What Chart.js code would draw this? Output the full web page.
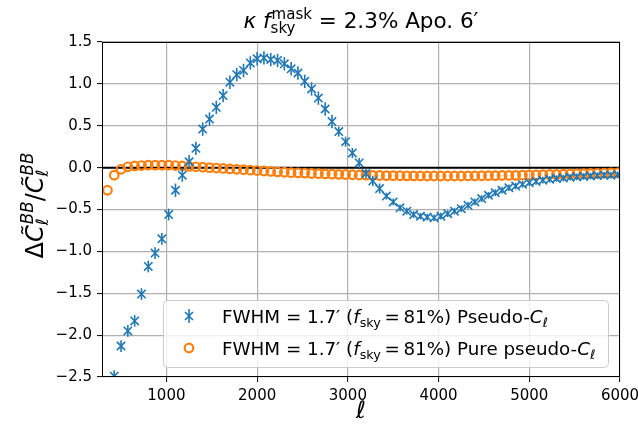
<!DOCTYPE html>
<html>
<head>
<meta charset="utf-8">
<script src="https://cdn.jsdelivr.net/npm/chart.js@4.4.1/dist/chart.umd.min.js"></script>
<style>
  html, body { margin: 0; padding: 0; background: #fff; }
  #wrap { width: 638px; height: 426px; }
</style>
</head>
<body>
<div id="wrap"><canvas id="myChart" width="638" height="426"></canvas></div>
<script>
// multipole bins
var ells = [350, 425, 500, 575, 650, 725, 800, 875, 950, 1025,
    1100, 1175, 1250, 1325, 1400, 1475, 1550, 1625, 1700, 1775,
    1850, 1925, 2000, 2075, 2150, 2225, 2300, 2375, 2450, 2525,
    2600, 2675, 2750, 2825, 2900, 2975, 3050, 3125, 3200, 3275,
    3350, 3425, 3500, 3575, 3650, 3725, 3800, 3875, 3950, 4025,
    4100, 4175, 4250, 4325, 4400, 4475, 4550, 4625, 4700, 4775,
    4850, 4925, 5000, 5075, 5150, 5225, 5300, 5375, 5450, 5525,
    5600, 5675, 5750, 5825, 5900, 5975];

// FWHM 1.7' pseudo-Cl (first bin is below the plot)
var pseudoCl = [null, -2.49, -2.13, -1.95, -1.83, -1.51, -1.18, -1.02, -0.85, -0.56,
    -0.27, -0.09, 0.07, 0.23, 0.46, 0.58, 0.72, 0.86, 1.02, 1.11,
    1.16, 1.25, 1.30, 1.31, 1.29, 1.28, 1.24, 1.18, 1.13, 1.03,
    0.94, 0.83, 0.70, 0.55, 0.43, 0.31, 0.175, 0.056, -0.07, -0.16,
    -0.25, -0.34, -0.41, -0.48, -0.52, -0.56, -0.58, -0.59, -0.60, -0.58,
    -0.55, -0.52, -0.49, -0.45, -0.41, -0.37, -0.33, -0.30, -0.27, -0.24,
    -0.22, -0.20, -0.18, -0.165, -0.15, -0.14, -0.13, -0.125, -0.115, -0.11,
    -0.105, -0.10, -0.095, -0.09, -0.09, -0.085];

var pseudoErr = [0, 0.07, 0.07, 0.07, 0.07, 0.07, 0.07, 0.07, 0.07, 0.07,
    0.08, 0.08, 0.08, 0.08, 0.08, 0.08, 0.08, 0.08, 0.08, 0.08,
    0.08, 0.08, 0.08, 0.08, 0.08, 0.08, 0.08, 0.08, 0.08, 0.08,
    0.08, 0.08, 0.08, 0.08, 0.06, 0.06, 0.06, 0.06, 0.06, 0.06,
    0.06, 0.04, 0.04, 0.04, 0.04, 0.04, 0.04, 0.04, 0.04, 0.04,
    0.04, 0.04, 0.04, 0.04, 0.04, 0.04, 0.04, 0.04, 0.04, 0.04,
    0.04, 0.04, 0.04, 0.04, 0.04, 0.04, 0.04, 0.04, 0.04, 0.04,
    0.04, 0.04, 0.04, 0.04, 0.04, 0.04];

// FWHM 1.7' pure pseudo-Cl
var purePseudoCl = [-0.27, -0.09, -0.02, 0.01, 0.02, 0.025, 0.03, 0.03, 0.03, 0.03,
    0.025, 0.02, 0.015, 0.01, 0.005, 0.0, -0.005, -0.01, -0.015, -0.02,
    -0.025, -0.03, -0.035, -0.04, -0.045, -0.05, -0.055, -0.06, -0.062, -0.065,
    -0.07, -0.072, -0.075, -0.078, -0.08, -0.082, -0.085, -0.088, -0.09, -0.092,
    -0.094, -0.095, -0.096, -0.097, -0.098, -0.098, -0.099, -0.10, -0.10, -0.10,
    -0.10, -0.10, -0.10, -0.099, -0.098, -0.097, -0.096, -0.095, -0.094, -0.093,
    -0.092, -0.09, -0.088, -0.086, -0.084, -0.082, -0.08, -0.078, -0.076, -0.074,
    -0.072, -0.07, -0.068, -0.066, -0.064, -0.062];

var xTicks = [1000, 2000, 3000, 4000, 5000, 6000];

var BLUE = '#1f77b4', ORANGE = '#ff7f0e';
var FONT = '"DejaVu Sans", sans-serif';

function fnt(size, it) {
    return (it ? 'italic ' : '') + size + 'px ' + FONT;
}

// draw text pieces with sub/superscripts, returns width
function runs(ctx, parts, x, y, size, dry) {
    var cx = x;
    parts.forEach(function(p) {
        ctx.font = fnt(size, p.it);
        var w = ctx.measureText(p.t).width;
        if (!dry) ctx.fillText(p.t, cx, y);
        var ws = 0, s = size * 0.7;
        if (p.sup) {
            ctx.font = fnt(s, p.supIt);
            if (!dry) ctx.fillText(p.sup, cx + w + 1, y - size * 0.4);
            ws = Math.max(ws, ctx.measureText(p.sup).width + 1);
        }
        if (p.sub) {
            ctx.font = fnt(s, p.subIt);
            if (!dry) ctx.fillText(p.sub, cx + w, y + size * 0.22);
            ws = Math.max(ws, ctx.measureText(p.sub).width);
        }
        cx += w + ws;
    });
    return cx - x;
}

function pts(ys) {
    var out = [];
    for (var i = 0; i < ells.length; i++) {
        if (ys[i] !== null) out.push({x: ells[i], y: ys[i]});
    }
    return out;
}

var extras = {
    id: 'extras',
    beforeDatasetsDraw: function(chart) {
        var ctx = chart.ctx, a = chart.chartArea, y0 = chart.scales.y.getPixelForValue(0);
        ctx.save();
        ctx.strokeStyle = '#000';
        ctx.lineWidth = 2;
        ctx.beginPath();
        ctx.moveTo(a.left, y0);
        ctx.lineTo(a.right, y0);
        ctx.stroke();
        ctx.restore();
    },
    beforeDatasetDraw: function(chart, args) {
        if (args.index !== 0) return;
        var ctx = chart.ctx, a = chart.chartArea, xs = chart.scales.x, ys = chart.scales.y;
        ctx.save();
        ctx.beginPath();
        ctx.rect(a.left, a.top, a.right - a.left, a.bottom - a.top);
        ctx.clip();
        ctx.strokeStyle = BLUE;
        ctx.lineWidth = 1.6;
        for (var i = 0; i < ells.length; i++) {
            if (pseudoCl[i] === null) continue;
            var px = xs.getPixelForValue(ells[i]);
            ctx.beginPath();
            ctx.moveTo(px, ys.getPixelForValue(pseudoCl[i] - pseudoErr[i]));
            ctx.lineTo(px, ys.getPixelForValue(pseudoCl[i] + pseudoErr[i]));
            ctx.stroke();
        }
        ctx.restore();
    },
    afterDraw: function(chart) {
        var ctx = chart.ctx, a = chart.chartArea;
        ctx.save();
        // frame
        ctx.strokeStyle = '#000';
        ctx.lineWidth = 1;
        ctx.strokeRect(a.left + 0.5, a.top + 0.5, a.right - a.left - 1, a.bottom - a.top - 1);

        // legend
        ctx.fillStyle = 'rgba(255,255,255,0.8)';
        ctx.strokeStyle = '#cccccc';
        ctx.beginPath();
        ctx.roundRect(163.5, 300.5, 445, 67, 4);
        ctx.fill();
        ctx.stroke();

        var mx = 189, r1 = 316, r2 = 348;
        ctx.strokeStyle = BLUE;
        ctx.lineWidth = 1.6;
        ctx.beginPath();
        ctx.moveTo(mx - 4, r1 - 4); ctx.lineTo(mx + 4, r1 + 4);
        ctx.moveTo(mx - 4, r1 + 4); ctx.lineTo(mx + 4, r1 - 4);
        ctx.moveTo(mx, r1 - 7); ctx.lineTo(mx, r1 + 7);
        ctx.stroke();
        ctx.strokeStyle = ORANGE;
        ctx.lineWidth = 2.2;
        ctx.beginPath();
        ctx.arc(mx, r2, 4.3, 0, Math.PI * 2);
        ctx.stroke();

        ctx.fillStyle = '#000';
        ctx.textBaseline = 'alphabetic';
        ctx.textAlign = 'left';
        var lsz = 18.3;
        runs(ctx, [{t: 'FWHM = 1.7\u2032 ('}, {t: 'f', it: true, sub: 'sky'},
            {t: '\u2009=\u200981%) Pseudo-'}, {t: 'C', it: true, sub: '\u2113', subIt: true}], 222, r1 + 7, lsz);
        runs(ctx, [{t: 'FWHM = 1.7\u2032 ('}, {t: 'f', it: true, sub: 'sky'},
            {t: '\u2009=\u200981%) Pure pseudo-'}, {t: 'C', it: true, sub: '\u2113', subIt: true}], 222, r2 + 7, lsz);

        // title
        var cxm = (a.left + a.right) / 2;
        var tparts = [{t: '\u03ba ', it: true}, {t: 'f', it: true, sup: 'mask', sub: 'sky'},
            {t: ' = 2.3% Apo. 6\u2032'}];
        var tw = runs(ctx, tparts, 0, 0, 21.5, true);
        runs(ctx, tparts, cxm - tw / 2, 28, 21.5);

        // x label
        ctx.font = fnt(24, true);
        ctx.textAlign = 'center';
        ctx.fillText('\u2113', cxm, 418);

        // y label
        ctx.textAlign = 'left';
        var yparts = [{t: '\u0394'},
            {t: 'C\u0303', it: true, sup: 'BB', supIt: true, sub: '\u2113', subIt: true},
            {t: '/'},
            {t: 'C\u0303', it: true, sup: 'BB', supIt: true, sub: '\u2113', subIt: true}];
        var yw = runs(ctx, yparts, 0, 0, 24, true);
        ctx.translate(43, (a.top + a.bottom) / 2 - 4);
        ctx.rotate(-Math.PI / 2);
        runs(ctx, yparts, -yw / 2, 0, 24);
        ctx.restore();
    }
};

var canvas = document.getElementById('myChart');
new Chart(canvas, {
    type: 'scatter',
    data: {
        datasets: [{
            label: 'pseudo',
            data: pts(pseudoCl),
            pointStyle: 'crossRot',
            pointRadius: 5.9,
            pointBorderWidth: 1.6,
            borderColor: BLUE,
            backgroundColor: BLUE,
            clip: 0
        }, {
            label: 'pure',
            data: pts(purePseudoCl),
            pointStyle: 'circle',
            pointRadius: 4.3,
            pointBorderWidth: 2.2,
            borderColor: ORANGE,
            backgroundColor: 'rgba(0,0,0,0)',
            clip: 0
        }]
    },
    options: {
        responsive: false,
        animation: false,
        events: [],
        layout: { padding: { top: 42, right: 18, left: 0, bottom: 0 } },
        plugins: {
            legend: { display: false },
            tooltip: { enabled: false }
        },
        scales: {
            x: {
                type: 'linear',
                min: 290,
                max: 6000,
                afterBuildTicks: function(s) {
                    s.ticks = xTicks.map(function(v) { return {value: v}; });
                },
                afterFit: function(s) {
                    s.height = 49;
                    s.paddingLeft = 0;
                    s.paddingRight = 0;
                },
                border: { display: false },
                grid: { color: '#b0b0b0', lineWidth: 1.2, tickColor: '#000', tickLength: 5, tickWidth: 1 },
                ticks: {
                    color: '#000',
                    padding: 5,
                    maxRotation: 0,
                    font: { family: FONT, size: 15 },
                    callback: function(v) { return String(v); }
                }
            },
            y: {
                min: -2.5,
                max: 1.5,
                afterFit: function(s) {
                    s.width = 102;
                    s.paddingTop = 0;
                    s.paddingBottom = 0;
                },
                border: { display: false },
                grid: { color: '#b0b0b0', lineWidth: 1.2, tickColor: '#000', tickLength: 5, tickWidth: 1 },
                ticks: {
                    stepSize: 0.5,
                    color: '#000',
                    padding: 5,
                    font: { family: FONT, size: 15 },
                    callback: function(v) { return v.toFixed(1).replace('-', '\u2212'); }
                }
            }
        }
    },
    plugins: [extras]
});
</script>
</body>
</html>
